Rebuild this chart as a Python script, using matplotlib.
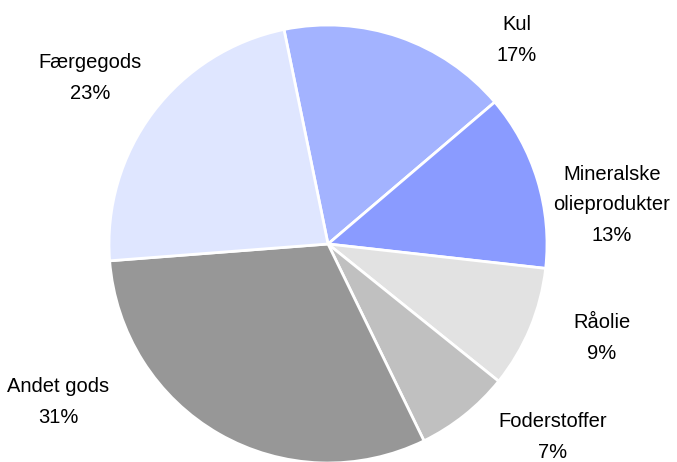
import matplotlib.pyplot as plt

# Godsomsætning fordelt på varegrupper (andele i procent)
categories = ["Kul", "Mineralske\nolieprodukter", "Råolie", "Foderstoffer", "Andet gods", "Færgegods"]
shares = [17, 13, 9, 7, 31, 23]
colors = ["#a3b3ff", "#8a9bff", "#e2e2e2", "#c0c0c0", "#979797", "#dfe6ff"]

# label placement (pixel coords, y from top)
label_pos = [(517, 40), (612, 205), (602, 338), (553, 437), (58, 402), (90, 78)]

fig = plt.figure(figsize=(6.77, 4.62), dpi=100)
ax = fig.add_axes([0, 0, 1, 1])

ax.pie(shares, colors=colors, startangle=101.6, counterclock=False,
       center=(328, 462 - 244), radius=219,
       wedgeprops=dict(edgecolor="white", linewidth=2), frame=True)
ax.set_xlim(0, 677)
ax.set_ylim(0, 462)
ax.set_aspect("equal")
ax.axis("off")

for name, val, (x, y) in zip(categories, shares, label_pos):
    ax.text(x, 462 - y, f"{name}\n{val}%", ha="center", va="center",
            multialignment="center", fontsize=14.5, linespacing=1.78,
            family=["Liberation Sans Narrow", "Liberation Sans", "DejaVu Sans"])

fig.savefig("out.png", dpi=100)
